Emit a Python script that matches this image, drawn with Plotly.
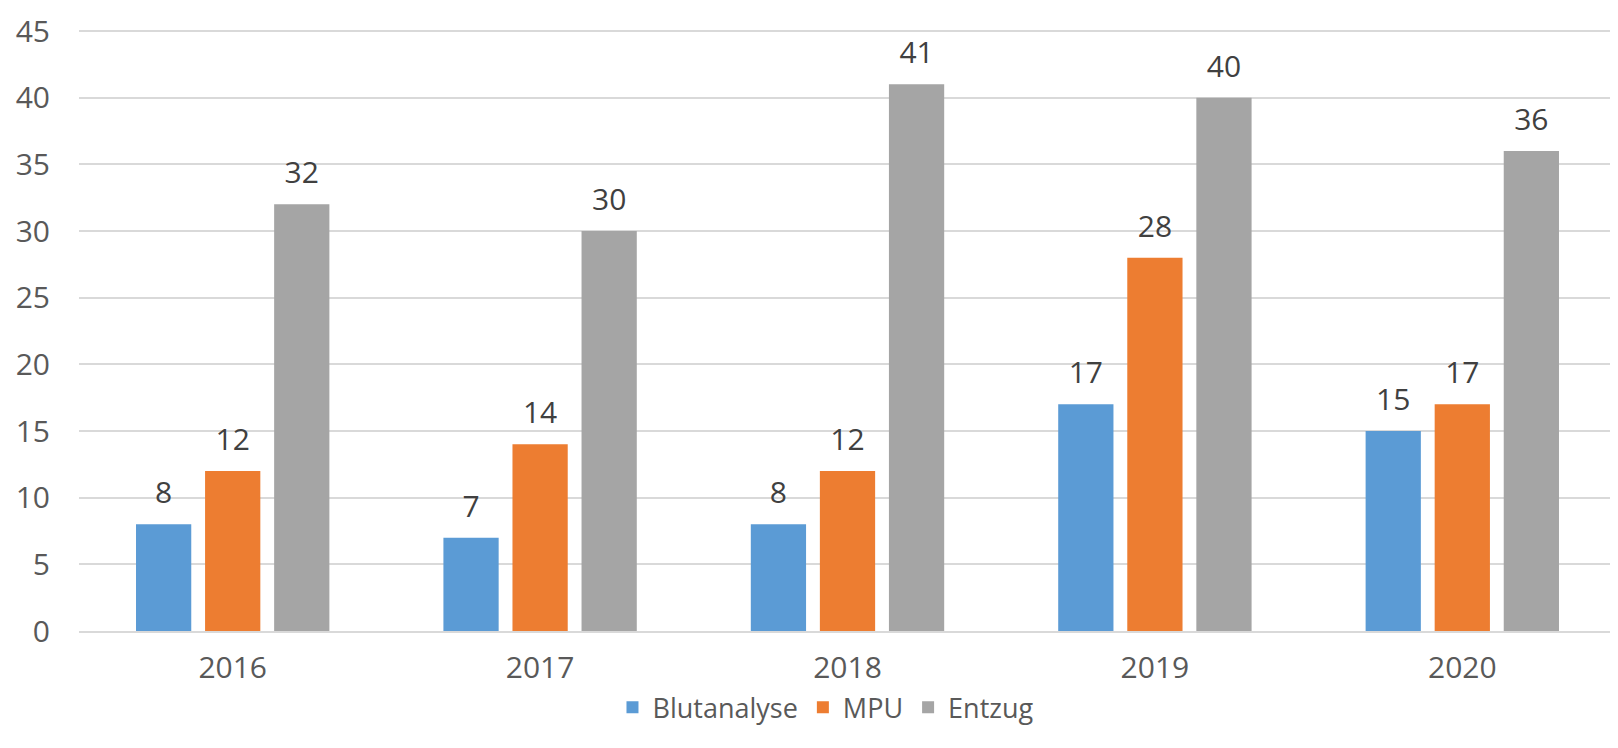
import plotly.graph_objects as go

years = ["2016", "2017", "2018", "2019", "2020"]
blutanalyse = [8, 7, 8, 17, 15]
mpu = [12, 14, 12, 28, 17]
entzug = [32, 30, 41, 40, 36]
y_ticks = [0, 5, 10, 15, 20, 25, 30, 35, 40, 45]

series = [
    ("Blutanalyse", blutanalyse, "#5B9BD5"),
    ("MPU", mpu, "#ED7D31"),
    ("Entzug", entzug, "#A5A5A5"),
]

FONT = "Open Sans, Noto Sans, sans-serif"
FS = 30

fig = go.Figure()
for i, (name, vals, col) in enumerate(series):
    fig.add_trace(go.Bar(
        x=years, y=vals, name=name, offsetgroup=str(i),
        marker=dict(color=col, line=dict(width=0)),
    ))
for i, (name, vals, col) in enumerate(series):
    fig.add_trace(go.Scatter(
        x=years, y=vals, mode="markers+text", offsetgroup=str(i),
        text=[str(v) for v in vals], textposition="top center",
        marker=dict(size=20, opacity=0, color=col),
        textfont=dict(family=FONT, size=FS, color="#404040"),
        showlegend=False, hoverinfo="skip", cliponaxis=False,
    ))

fig.update_layout(
    width=1610, height=740,
    margin=dict(l=71, r=2, t=15, b=117),
    paper_bgcolor="white", plot_bgcolor="white",
    barmode="group", bargap=0.326, bargroupgap=0.2,
    scattermode="group", scattergap=0.326,
    font=dict(family=FONT, size=FS, color="#595959"),
    showlegend=True,
    legend=dict(orientation="h", x=0.486, xanchor="center", y=-0.127, yanchor="middle",
                bgcolor="rgba(0,0,0,0)",
                font=dict(family=FONT, size=27, color="#595959"),
                itemwidth=30, traceorder="normal"),
    xaxis=dict(type="category", showgrid=False, showline=True, linecolor="#D9D9D9", linewidth=1.5,
               ticks="outside", ticklen=9, tickcolor="rgba(0,0,0,0)",
               tickfont=dict(size=FS, color="#595959")),
    yaxis=dict(range=[0, 45.3], tickvals=y_ticks, ticklabeloverflow="allow",
               showgrid=True, gridcolor="#D9D9D9", gridwidth=1.5,
               zeroline=False, ticks="outside", ticklen=22, tickcolor="rgba(0,0,0,0)",
               tickfont=dict(size=FS, color="#595959")),
)

fig.write_html("out.html")
